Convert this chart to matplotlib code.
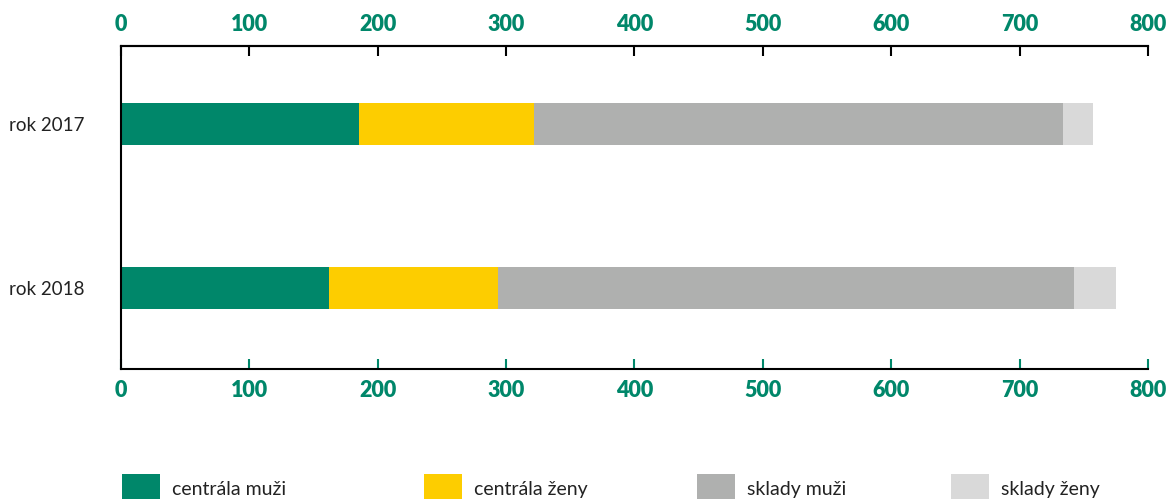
import matplotlib
matplotlib.use('Agg')
import matplotlib.pyplot as plt
import numpy as np

plt.rcParams['font.family'] = ['Lato', 'DejaVu Sans']

years = ['rok 2017', 'rok 2018']
series = ['centrála muži', 'centrála ženy', 'sklady muži', 'sklady ženy']
centrala_muzi = [185, 162]
centrala_zeny = [137, 132]
sklady_muzi = [412, 448]
sklady_zeny = [23, 33]
colors = ['#00876A', '#FDCD00', '#AFB0AF', '#D9D9D9']
green = '#00876A'

fig = plt.figure(figsize=(11.75, 4.99), dpi=100)
ax = fig.add_axes([0.103, 0.2605, 0.874, 0.6475])

y = np.arange(len(years))
left = np.zeros(len(years))
for vals, name, c in zip([centrala_muzi, centrala_zeny, sklady_muzi, sklady_zeny], series, colors):
    ax.barh(y, vals, left=left, height=0.256, color=c, label=name)
    left += np.array(vals)

ax.set_xlim(0, 800)
ax.set_ylim(1.494, -0.476)
ax.set_yticks(y)
ax.set_yticklabels(years, fontsize=13.5, color='#222222')
ax.tick_params(axis='y', length=0, pad=26)

ticks = np.arange(0, 801, 100)
ax.set_xticks(ticks)
ax.tick_params(axis='x', direction='in', length=7, width=1.5, color=green,
               labelsize=15.5, labelcolor=green, pad=8)
for lab in ax.get_xticklabels():
    lab.set_fontweight('heavy')

top = ax.secondary_xaxis('top')
top.set_xticks(ticks)
top.tick_params(direction='in', length=7, width=1.5, color='black',
                labelsize=15.5, labelcolor=green, pad=8)
for lab in top.get_xticklabels():
    lab.set_fontweight('heavy')
top.spines['top'].set_linewidth(1.5)

ax.spines['right'].set_visible(False)
for s in ['left', 'bottom', 'top']:
    ax.spines[s].set_linewidth(1.5)

# legend: one entry per block, spread along the bottom edge
handles, labels = ax.get_legend_handles_labels()
legend_x = [122, 424, 697, 951]
for h, lab, xpx in zip(handles, labels, legend_x):
    leg = fig.legend([h], [lab], loc='center left', bbox_to_anchor=(xpx / 1175, 1 - 489 / 499),
                     frameon=False, fontsize=14, handlelength=1.96, handleheight=1.96,
                     handletextpad=0.62, borderpad=0, borderaxespad=0)
    for t in leg.get_texts():
        t.set_color('#222222')

fig.savefig('out.png', dpi=100)
